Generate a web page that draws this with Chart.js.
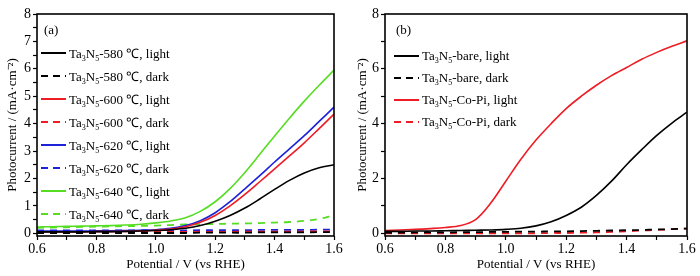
<!DOCTYPE html>
<html>
<head>
<meta charset="utf-8">
<script src="https://cdn.jsdelivr.net/npm/chart.js@4.4.1/dist/chart.umd.min.js"></script>
<style>
  body { margin: 0; background: #fff; }
  #wrap { position: relative; width: 700px; height: 276px; }
  .panel { position: absolute; top: 0; width: 350px; height: 276px; }
  .legend { position: absolute; left: 0; top: 0; font-family: "Liberation Serif", "Times New Roman", serif; font-size: 13px; color: #000; }
  .row { position: absolute; white-space: nowrap; display: flex; align-items: center; height: 16px; }
  .row svg { margin-right: 3px; }
  .tag { position: absolute; font-family: "Liberation Serif", "Times New Roman", serif; font-size: 13px; }
  sub { font-size: 0.62em; vertical-align: -0.35em; line-height: 0; }
</style>
</head>
<body>
<div id="wrap">
  <div class="panel" style="left:0"><canvas id="chart_a" width="350" height="276"></canvas></div>
  <div class="panel" style="left:350px"><canvas id="chart_b" width="350" height="276"></canvas></div>
  <div class="tag" style="left:44px;top:22px">(a)</div>
  <div class="tag" style="left:396px;top:22px">(b)</div>
  <div id="legend_a" class="legend"></div>
  <div id="legend_b" class="legend"></div>
</div>
<script>
// 전위 (V vs RHE)
const potential = [0.6, 0.65, 0.7, 0.75, 0.8, 0.85, 0.9, 0.95, 1.0, 1.05, 1.1,
  1.15, 1.2, 1.25, 1.3, 1.35, 1.4, 1.45, 1.5, 1.55, 1.6];

// (a) 소성 온도별 광전류
const t580Light = [0.05, 0.05, 0.05, 0.05, 0.06, 0.06, 0.07, 0.08, 0.10, 0.13, 0.18, 0.28, 0.44, 0.65, 0.92, 1.25, 1.60, 1.93, 2.20, 2.39, 2.50];
const t580Dark  = [0.01, 0.01, 0.01, 0.01, 0.01, 0.01, 0.01, 0.01, 0.01, 0.01, 0.01, 0.02, 0.02, 0.02, 0.02, 0.03, 0.03, 0.03, 0.03, 0.04, 0.04];
const t600Light = [0.05, 0.05, 0.05, 0.05, 0.06, 0.06, 0.07, 0.08, 0.11, 0.15, 0.24, 0.40, 0.65, 1.00, 1.42, 1.88, 2.35, 2.82, 3.30, 3.82, 4.35];
const t600Dark  = [0.05, 0.05, 0.05, 0.05, 0.05, 0.05, 0.05, 0.05, 0.05, 0.05, 0.05, 0.05, 0.05, 0.05, 0.06, 0.06, 0.06, 0.06, 0.06, 0.07, 0.07];
const t620Light = [0.08, 0.08, 0.08, 0.08, 0.09, 0.09, 0.10, 0.11, 0.13, 0.18, 0.28, 0.46, 0.75, 1.15, 1.62, 2.10, 2.60, 3.08, 3.56, 4.08, 4.60];
const t620Dark  = [0.10, 0.10, 0.10, 0.10, 0.10, 0.10, 0.10, 0.10, 0.10, 0.10, 0.10, 0.11, 0.11, 0.11, 0.11, 0.12, 0.12, 0.12, 0.12, 0.13, 0.13];
const t640Light = [0.23, 0.24, 0.25, 0.26, 0.27, 0.28, 0.30, 0.33, 0.38, 0.45, 0.57, 0.80, 1.15, 1.63, 2.22, 2.88, 3.55, 4.20, 4.82, 5.40, 5.95];
const t640Dark  = [0.20, 0.21, 0.22, 0.23, 0.24, 0.25, 0.26, 0.27, 0.28, 0.30, 0.32, 0.33, 0.34, 0.35, 0.36, 0.37, 0.39, 0.41, 0.45, 0.52, 0.66];

// (b) Co-Pi 담지 전후
const bareLight = [0.07, 0.07, 0.08, 0.08, 0.09, 0.10, 0.11, 0.12, 0.14, 0.18, 0.27, 0.42, 0.65, 0.95, 1.38, 1.90, 2.50, 3.05, 3.57, 4.02, 4.42];
const bareDark  = [0.02, 0.02, 0.03, 0.03, 0.03, 0.04, 0.04, 0.05, 0.05, 0.06, 0.06, 0.07, 0.07, 0.08, 0.09, 0.10, 0.11, 0.12, 0.14, 0.15, 0.17];
const copiLight = [0.10, 0.12, 0.14, 0.17, 0.21, 0.28, 0.50, 1.10, 1.90, 2.70, 3.40, 4.00, 4.55, 5.00, 5.40, 5.75, 6.05, 6.35, 6.60, 6.82, 7.02];
const copiDark  = [0.00, 0.00, 0.00, 0.00, 0.00, 0.00, 0.00, 0.00, 0.00, 0.00, 0.00, 0.01, 0.01, 0.02, 0.03, 0.05, 0.07, 0.10, 0.12, 0.15, 0.17];

// 범례 라벨
const labelsA = ['Ta3N5-580 ℃, light', 'Ta3N5-580 ℃, dark', 'Ta3N5-600 ℃, light', 'Ta3N5-600 ℃, dark',
  'Ta3N5-620 ℃, light', 'Ta3N5-620 ℃, dark', 'Ta3N5-640 ℃, light', 'Ta3N5-640 ℃, dark'];
const labelsB = ['Ta3N5-bare, light', 'Ta3N5-bare, dark', 'Ta3N5-Co-Pi, light', 'Ta3N5-Co-Pi, dark'];

// 눈금
const xTicks = [0.6, 0.8, 1.0, 1.2, 1.4, 1.6];
const yTicksA = [0, 1, 2, 3, 4, 5, 6, 7, 8];
const yTicksB = [0, 2, 4, 6, 8];

const SERIF = '"Liberation Serif", "Times New Roman", serif';
const BLACK = '#000000', RED = '#ee1c24', BLUE = '#1b22d8', GREEN = '#55dd22';

function series(label, values, color, dark) {
  return {
    label: label,
    data: values.map((v, i) => ({ x: potential[i], y: v })),
    borderColor: color,
    borderWidth: dark ? 1.8 : 1.6,
    borderDash: dark ? [7, 6] : [],
    pointRadius: 0,
    tension: 0.35,
    fill: false
  };
}

// 주눈금 사이에 보조눈금 추가
function withMinor(major) {
  const out = [];
  major.forEach((v, i) => {
    out.push({ value: v });
    if (i < major.length - 1) out.push({ value: (v + major[i + 1]) / 2 });
  });
  return out;
}

function isMajor(list, v) {
  return list.some(m => Math.abs(m - v) < 1e-6);
}

const framePlugin = {
  id: 'frame',
  afterDraw(chart) {
    const a = chart.chartArea, ctx = chart.ctx;
    ctx.save();
    ctx.strokeStyle = '#000';
    ctx.lineWidth = 1.6;
    ctx.strokeRect(a.left, a.top, a.right - a.left, a.bottom - a.top);
    ctx.restore();
  }
};

function createChart(canvasId, datasets, yTicks, yWidth, padRight) {
  const ctx = document.getElementById(canvasId).getContext('2d');
  return new Chart(ctx, {
    type: 'line',
    data: { datasets: datasets },
    plugins: [framePlugin],
    options: {
      responsive: false,
      animation: false,
      layout: { padding: { top: 14, right: padRight, left: 0, bottom: 0 } },
      plugins: { legend: { display: false }, tooltip: { enabled: false } },
      scales: {
        x: {
          type: 'linear',
          min: 0.6,
          max: 1.6,
          afterBuildTicks: s => { s.ticks = withMinor(xTicks); },
          afterFit: s => { s.height = 40; },
          grid: { drawOnChartArea: false, drawTicks: true, tickLength: 4, tickColor: '#000', tickWidth: 1.2 },
          border: { display: false },
          ticks: {
            color: '#000',
            padding: 1,
            maxRotation: 0,
            autoSkip: false,
            font: { family: SERIF, size: 14 },
            callback: v => isMajor(xTicks, v) ? v.toFixed(1) : ''
          },
          title: {
            display: true,
            text: 'Potential / V (vs RHE)',
            color: '#000',
            font: { family: SERIF, size: 13 },
            padding: { top: 0, bottom: 4 }
          }
        },
        y: {
          min: -0.1,
          max: 8,
          afterBuildTicks: s => { s.ticks = withMinor(yTicks); },
          afterFit: s => { s.width = yWidth; },
          grid: { drawOnChartArea: false, drawTicks: true, tickLength: 4, tickColor: '#000', tickWidth: 1.2 },
          border: { display: false },
          ticks: {
            color: '#000',
            padding: 2,
            autoSkip: false,
            font: { family: SERIF, size: 14 },
            callback: v => isMajor(yTicks, v) ? String(v) : ''
          },
          title: {
            display: true,
            text: 'Photocurrent / (mA·cm⁻²)',
            color: '#000',
            font: { family: SERIF, size: 13 },
            padding: { top: 5, bottom: 0 }
          }
        }
      }
    }
  });
}

// HTML 범례 (아래 첨자 때문에 캔버스 대신 사용)
function buildLegend(boxId, chart, left, top, step) {
  const box = document.getElementById(boxId);
  chart.data.datasets.forEach((ds, i) => {
    const row = document.createElement('div');
    row.className = 'row';
    row.style.left = left + 'px';
    row.style.top = (top + i * step - 8) + 'px';
    const dash = ds.borderDash.length ? ' stroke-dasharray="7 5"' : '';
    row.innerHTML = '<svg width="25" height="4"><line x1="0" y1="2" x2="25" y2="2" stroke="' + ds.borderColor +
      '" stroke-width="2"' + dash + '/></svg><span>' +
      ds.label.replace('Ta3N5', 'Ta<sub>3</sub>N<sub>5</sub>') + '</span>';
    box.appendChild(row);
  });
}

const chartA = createChart('chart_a', [
  series(labelsA[0], t580Light, BLACK, false),
  series(labelsA[1], t580Dark, BLACK, true),
  series(labelsA[2], t600Light, RED, false),
  series(labelsA[3], t600Dark, RED, true),
  series(labelsA[4], t620Light, BLUE, false),
  series(labelsA[5], t620Dark, BLUE, true),
  series(labelsA[6], t640Light, GREEN, false),
  series(labelsA[7], t640Dark, GREEN, true)
], yTicksA, 37, 16);

const chartB = createChart('chart_b', [
  series(labelsB[0], bareLight, BLACK, false),
  series(labelsB[1], bareDark, BLACK, true),
  series(labelsB[2], copiLight, RED, false),
  series(labelsB[3], copiDark, RED, true)
], yTicksB, 35, 13);

buildLegend('legend_a', chartA, 41, 53, 23);
buildLegend('legend_b', chartB, 394, 56, 22);
</script>
</body>
</html>
